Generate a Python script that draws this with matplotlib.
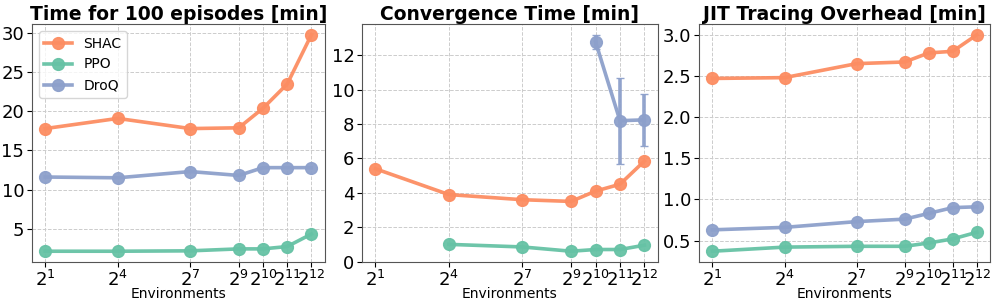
import numpy as np
import matplotlib
matplotlib.use("Agg")
import matplotlib.pyplot as plt

# number of parallel environments
envs = [2, 16, 128, 512, 1024, 2048, 4096]
tick_labels = [r'$2^{1}$', r'$2^{4}$', r'$2^{7}$', r'$2^{9}$', r'$2^{10}$', r'$2^{11}$', r'$2^{12}$']

# Time for 100 episodes [min]
shac_time = [17.8, 19.1, 17.8, 17.9, 20.4, 23.5, 29.8]
ppo_time = [2.1, 2.1, 2.15, 2.4, 2.4, 2.7, 4.3]
droq_time = [11.6, 11.5, 12.3, 11.8, 12.8, 12.8, 12.8]

# Convergence time [min] (nan = did not converge)
shac_conv = [5.4, 3.9, 3.6, 3.5, 4.1, 4.5, 5.85]
ppo_conv = [np.nan, 1.0, 0.85, 0.6, 0.7, 0.7, 0.95]
droq_conv = [np.nan, np.nan, np.nan, np.nan, 12.8, 8.2, 8.25]
droq_conv_err = [0, 0, 0, 0, 0.4, 2.5, 1.5]

# JIT tracing overhead [min]
shac_jit = [2.47, 2.48, 2.65, 2.67, 2.78, 2.8, 3.0]
ppo_jit = [0.37, 0.42, 0.43, 0.43, 0.47, 0.52, 0.6]
droq_jit = [0.63, 0.66, 0.73, 0.76, 0.83, 0.9, 0.91]

colors = {'SHAC': '#fc8d62', 'PPO': '#66c2a5', 'DroQ': '#8da0cb'}

panels = [
    ('Time for 100 episodes [min]', {'SHAC': (shac_time, None), 'PPO': (ppo_time, None), 'DroQ': (droq_time, None)},
     [5, 10, 15, 20, 25, 30]),
    ('Convergence Time [min]', {'SHAC': (shac_conv, None), 'PPO': (ppo_conv, None), 'DroQ': (droq_conv, droq_conv_err)},
     [0, 2, 4, 6, 8, 10, 12]),
    ('JIT Tracing Overhead [min]', {'SHAC': (shac_jit, None), 'PPO': (ppo_jit, None), 'DroQ': (droq_jit, None)},
     [0.5, 1.0, 1.5, 2.0, 2.5, 3.0]),
]

fig = plt.figure(figsize=(9.96, 3.04), dpi=100)
# axes boxes in figure fractions (left, bottom, width, height)
boxes = [(0.032, 0.138, 0.294, 0.783),
         (0.3635, 0.138, 0.297, 0.783),
         (0.702, 0.138, 0.292, 0.783)]

for i, (box, (title, series, yt)) in enumerate(zip(boxes, panels)):
    ax = fig.add_axes(box)
    for name, (vals, err) in series.items():
        ax.errorbar(envs, vals, yerr=err, color=colors[name], marker='o', markersize=8.5,
                    linewidth=2.6, elinewidth=2.6, capsize=3, alpha=0.95, label=name)
    ax.set_xscale('log', base=2)
    ax.set_xticks(envs)
    ax.set_xticklabels(tick_labels)
    ax.minorticks_off()
    ax.set_yticks(yt)
    ax.tick_params(axis='both', labelsize=13, pad=2)
    ax.set_xlabel('Environments', fontsize=10, labelpad=-2)
    ax.set_title(title, fontsize=13.5, fontweight='bold', pad=2)
    ax.grid(True, linestyle='--', color='#cccccc', linewidth=0.7)
    for s in ax.spines.values():
        s.set_color('#555555')
    if i == 0:
        ax.legend(loc='upper left', fontsize=10)

plt.savefig('out.png')
